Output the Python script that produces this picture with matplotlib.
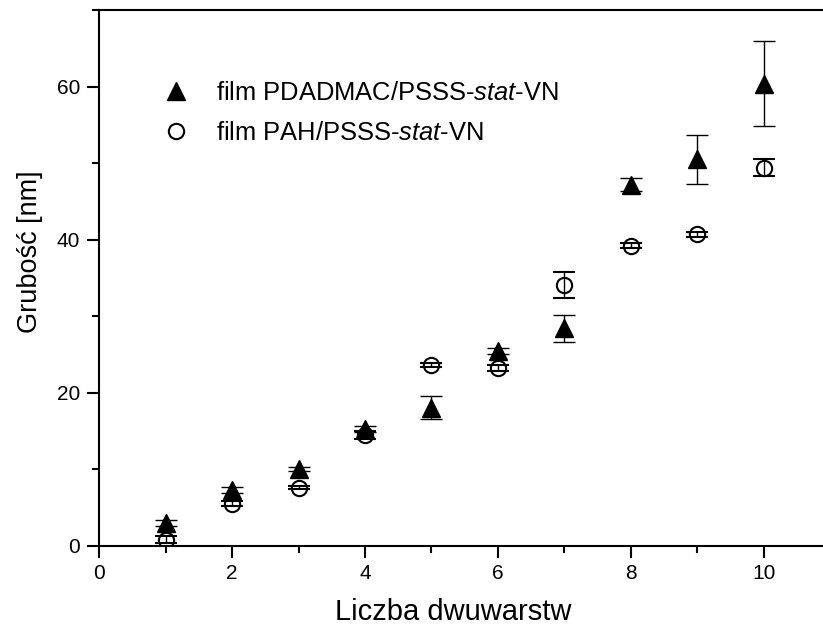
import matplotlib
matplotlib.use("Agg")
import matplotlib.pyplot as plt
from matplotlib.ticker import MultipleLocator

plt.rcParams['font.family'] = ['Liberation Sans', 'DejaVu Sans']
plt.rcParams['mathtext.fontset'] = 'custom'
plt.rcParams['mathtext.rm'] = 'Liberation Sans'
plt.rcParams['mathtext.it'] = 'Liberation Sans:italic'

# Number of bilayers
layers = [1, 2, 3, 4, 5, 6, 7, 8, 9, 10]

# PDADMAC/PSSS-stat-VN film thickness [nm] and errors
pdadmac = [3.0, 7.3, 10.0, 15.2, 18.0, 25.5, 28.4, 47.2, 50.5, 60.4]
pdadmac_err = [0.4, 0.4, 0.3, 0.4, 1.5, 0.4, 1.8, 0.8, 3.2, 5.5]

# PAH/PSSS-stat-VN film thickness [nm] and errors
pah = [0.8, 5.5, 7.6, 14.5, 23.6, 23.2, 34.1, 39.2, 40.7, 49.4]
pah_err = [0.5, 0.3, 0.2, 0.5, 0.3, 0.4, 1.7, 0.3, 0.3, 1.15]

labels = [r"film PDADMAC/PSSS-$\it{stat}$-VN", r"film PAH/PSSS-$\it{stat}$-VN"]

fig = plt.figure(figsize=(8.23, 6.25), dpi=100)
ax = fig.add_axes([0.1203, 0.1269, 0.8888, 0.857])

tri = ax.errorbar(layers, pdadmac, yerr=pdadmac_err, fmt='^', color='black',
                  ms=13, ecolor='black', elinewidth=1, capsize=8, capthick=1,
                  zorder=3)
circ = ax.errorbar(layers, pah, yerr=pah_err, fmt='o', color='black', mfc='none',
                   mew=1.5, ms=11, ecolor='black', elinewidth=1, capsize=8,
                   capthick=1, zorder=3)

ax.set_xlim(0, 11)
ax.set_ylim(0, 70)
ax.xaxis.set_major_locator(MultipleLocator(2))
ax.xaxis.set_minor_locator(MultipleLocator(1))
ax.yaxis.set_major_locator(MultipleLocator(20))
ax.yaxis.set_minor_locator(MultipleLocator(10))
ax.tick_params(which='both', direction='out', width=1.5, labelsize=15, pad=5)
ax.tick_params(which='major', length=8.5)
ax.tick_params(which='minor', length=5)
for s in ax.spines.values():
    s.set_linewidth(1.5)

ax.set_xlabel("Liczba dwuwarstw", fontsize=21)
ax.set_ylabel("Grubość [nm]", fontsize=19.5)
ax.xaxis.set_label_coords(0.4846, -0.097)
ax.yaxis.set_label_coords(-0.0766, 0.548)

ax.legend(handles=[tri[0], circ[0]], labels=labels, loc='upper left',
          bbox_to_anchor=(0.057, 0.911), frameon=False, fontsize=18.4,
          handletextpad=1.05, labelspacing=0.65, handlelength=1.0,
          borderpad=0.4)

fig.savefig("out.png", dpi=100)
